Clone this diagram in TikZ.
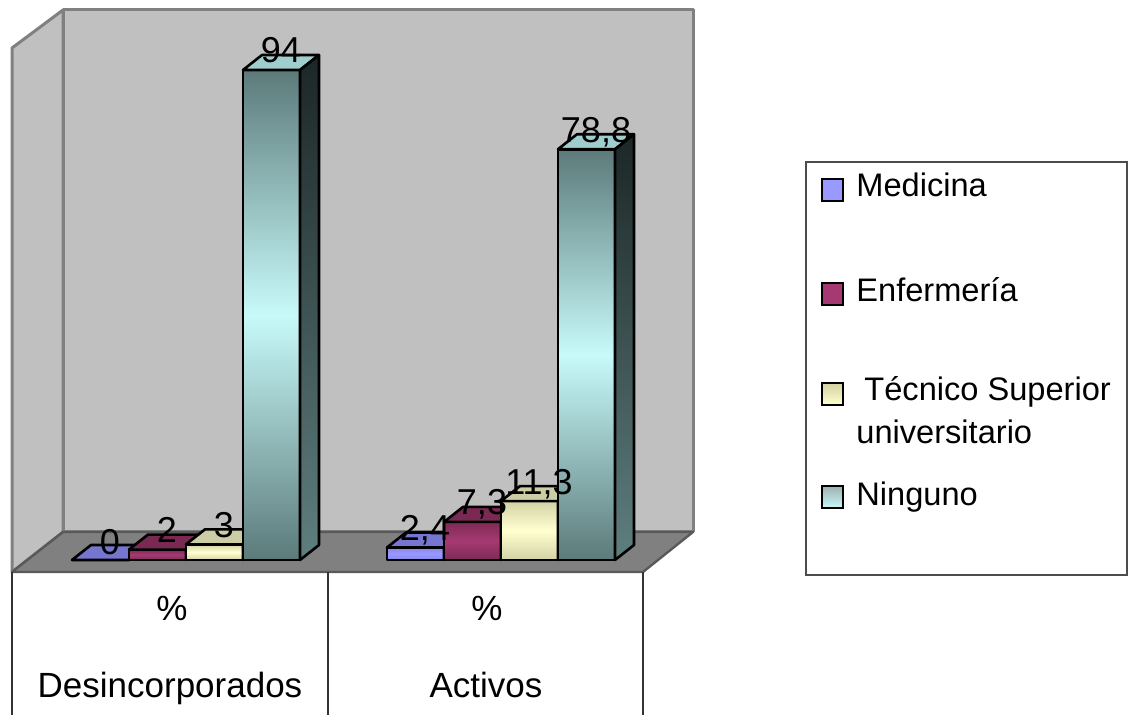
\documentclass[tikz,border=0pt]{standalone}
\usepackage{fontspec}
\setmainfont{Liberation Sans}
\usepackage{tikz}
\usetikzlibrary{positioning,calc}
\usepackage{xcolor}
\definecolor{wallgray}{RGB}{192,192,192}
\definecolor{floorgray}{RGB}{128,128,128}
\definecolor{edgegray}{RGB}{128,128,128}
\definecolor{med}{RGB}{153,153,255}
\definecolor{meddark}{RGB}{135,135,235}
\definecolor{medtop}{RGB}{118,118,208}
\definecolor{medside}{RGB}{90,90,170}
\definecolor{medshadow}{RGB}{50,50,100}
\definecolor{nurse}{RGB}{165,58,114}
\definecolor{nursedark}{RGB}{125,42,85}
\definecolor{nursetop}{RGB}{122,41,82}
\definecolor{nurseside}{RGB}{92,31,61}
\definecolor{nurseshadow}{RGB}{60,20,40}
\definecolor{tech}{RGB}{255,255,208}
\definecolor{techdark}{RGB}{210,210,165}
\definecolor{techtop}{RGB}{205,205,165}
\definecolor{techside}{RGB}{160,160,128}
\definecolor{techshadow}{RGB}{100,100,80}
\definecolor{ning}{RGB}{200,250,250}
\definecolor{ningdark}{RGB}{92,122,122}
\definecolor{ningtop}{RGB}{160,205,205}
\definecolor{ningside}{RGB}{95,127,127}
\definecolor{ningshadow}{RGB}{28,38,38}

\begin{document}
\begin{tikzpicture}[x=0.5pt,y=-0.5pt,
    wall/.style={fill=wallgray,draw=edgegray,line width=1.5pt,line join=round},
    barline/.style={draw=black,line width=1.3pt,line join=round},
    value/.style={font=\fontsize{18}{18}\selectfont,anchor=base,inner sep=0pt},
    catlabel/.style={font=\fontsize{17.5}{18}\selectfont,anchor=base,inner sep=0pt},
    legtext/.style={font=\fontsize{16.3}{17}\selectfont,anchor=base west,inner sep=0pt},
    legkey/.style={draw=black,line width=1.2pt}]
    \useasboundingbox (0,0) rectangle (1131,715);

    % Walls and floor
    \filldraw[wall] (12,48) -- (63,10) -- (63,532) -- (12,572) -- cycle;
    \filldraw[wall] (63,10) rectangle (693,532);
    \filldraw[fill=floorgray,draw=black!65,line width=1.2pt,line join=round]
        (12,572) -- (63,532) -- (693,532) -- (643,572) -- cycle;

    % Category table
    \draw[black!80,line width=0.6pt] (12,572) -- (12,715);
    \draw[black!80,line width=0.6pt] (328,572) -- (328,715);
    \draw[black!80,line width=0.6pt] (643,572) -- (643,715);
    \node[catlabel] (pct1) at (172,621) {\%};
    \node[catlabel] (cat1) at (170,698) {Desincorporados};
    \node[catlabel] (pct2) at (487,621) {\%};
    \node[catlabel] (cat2) at (486,698) {Activos};

    % Bars
    \filldraw[barline,fill=medtop] (72,560) -- (91,545) -- (148,545) -- (129,560) -- cycle;
    \foreach \x/\v/\s in {129/2/nurse, 186/3/tech, 243/94/ning,
                          387/2.4/med, 444/7.3/nurse, 501/11.3/tech, 558/78.8/ning}{
        \pgfmathsetmacro{\t}{560-5.2128*\v}
        \shadedraw[barline,top color=\s dark,bottom color=\s dark,middle color=\s]
            (\x,560) rectangle (\x+57,\t);
        \filldraw[barline,fill=\s top] (\x,\t) -- (\x+19,\t-15) -- (\x+76,\t-15) -- (\x+57,\t) -- cycle;
        \shadedraw[barline,top color=\s shadow,bottom color=\s side]
            (\x+57,560) -- (\x+57,\t) -- (\x+76,\t-15) -- (\x+76,545) -- cycle;
    }

    % Values
    \node[value] (val0) at (110,555) {0};
    \foreach \x/\v/\l [count=\i] in {129/2/2, 186/3/3, 243/94/94,
                          387/2.4/{2,4}, 444/7.3/{7,3}, 501/11.3/{11,3}, 558/78.8/{78,8}}{
        \pgfmathsetmacro{\t}{560-5.2128*\v}
        \node[value] (val\i) at (\x+38,\t-7) {\l};
    }

    % Legend
    \draw[black!70,line width=0.8pt] (806,162) rectangle (1127,575);
    \filldraw[legkey,fill=med] (822,179) rectangle (843,201);
    \filldraw[legkey,fill=nurse] (822,283) rectangle (843,305);
    \shadedraw[legkey,top color=techdark,bottom color=tech] (822,383) rectangle (843,405);
    \shadedraw[legkey,top color=ningdark!60,bottom color=ning] (822,486) rectangle (843,508);
    \node[legtext] (legmed) at (856,197) {Medicina};
    \node[legtext] (legnurse) at (856,302) {Enfermería};
    \node[legtext] (legtech) at (864,401) {Técnico Superior};
    \node[legtext] (leguni) at (856,444) {universitario};
    \node[legtext] (legnone) at (856,506) {Ninguno};
\end{tikzpicture}
\end{document}
